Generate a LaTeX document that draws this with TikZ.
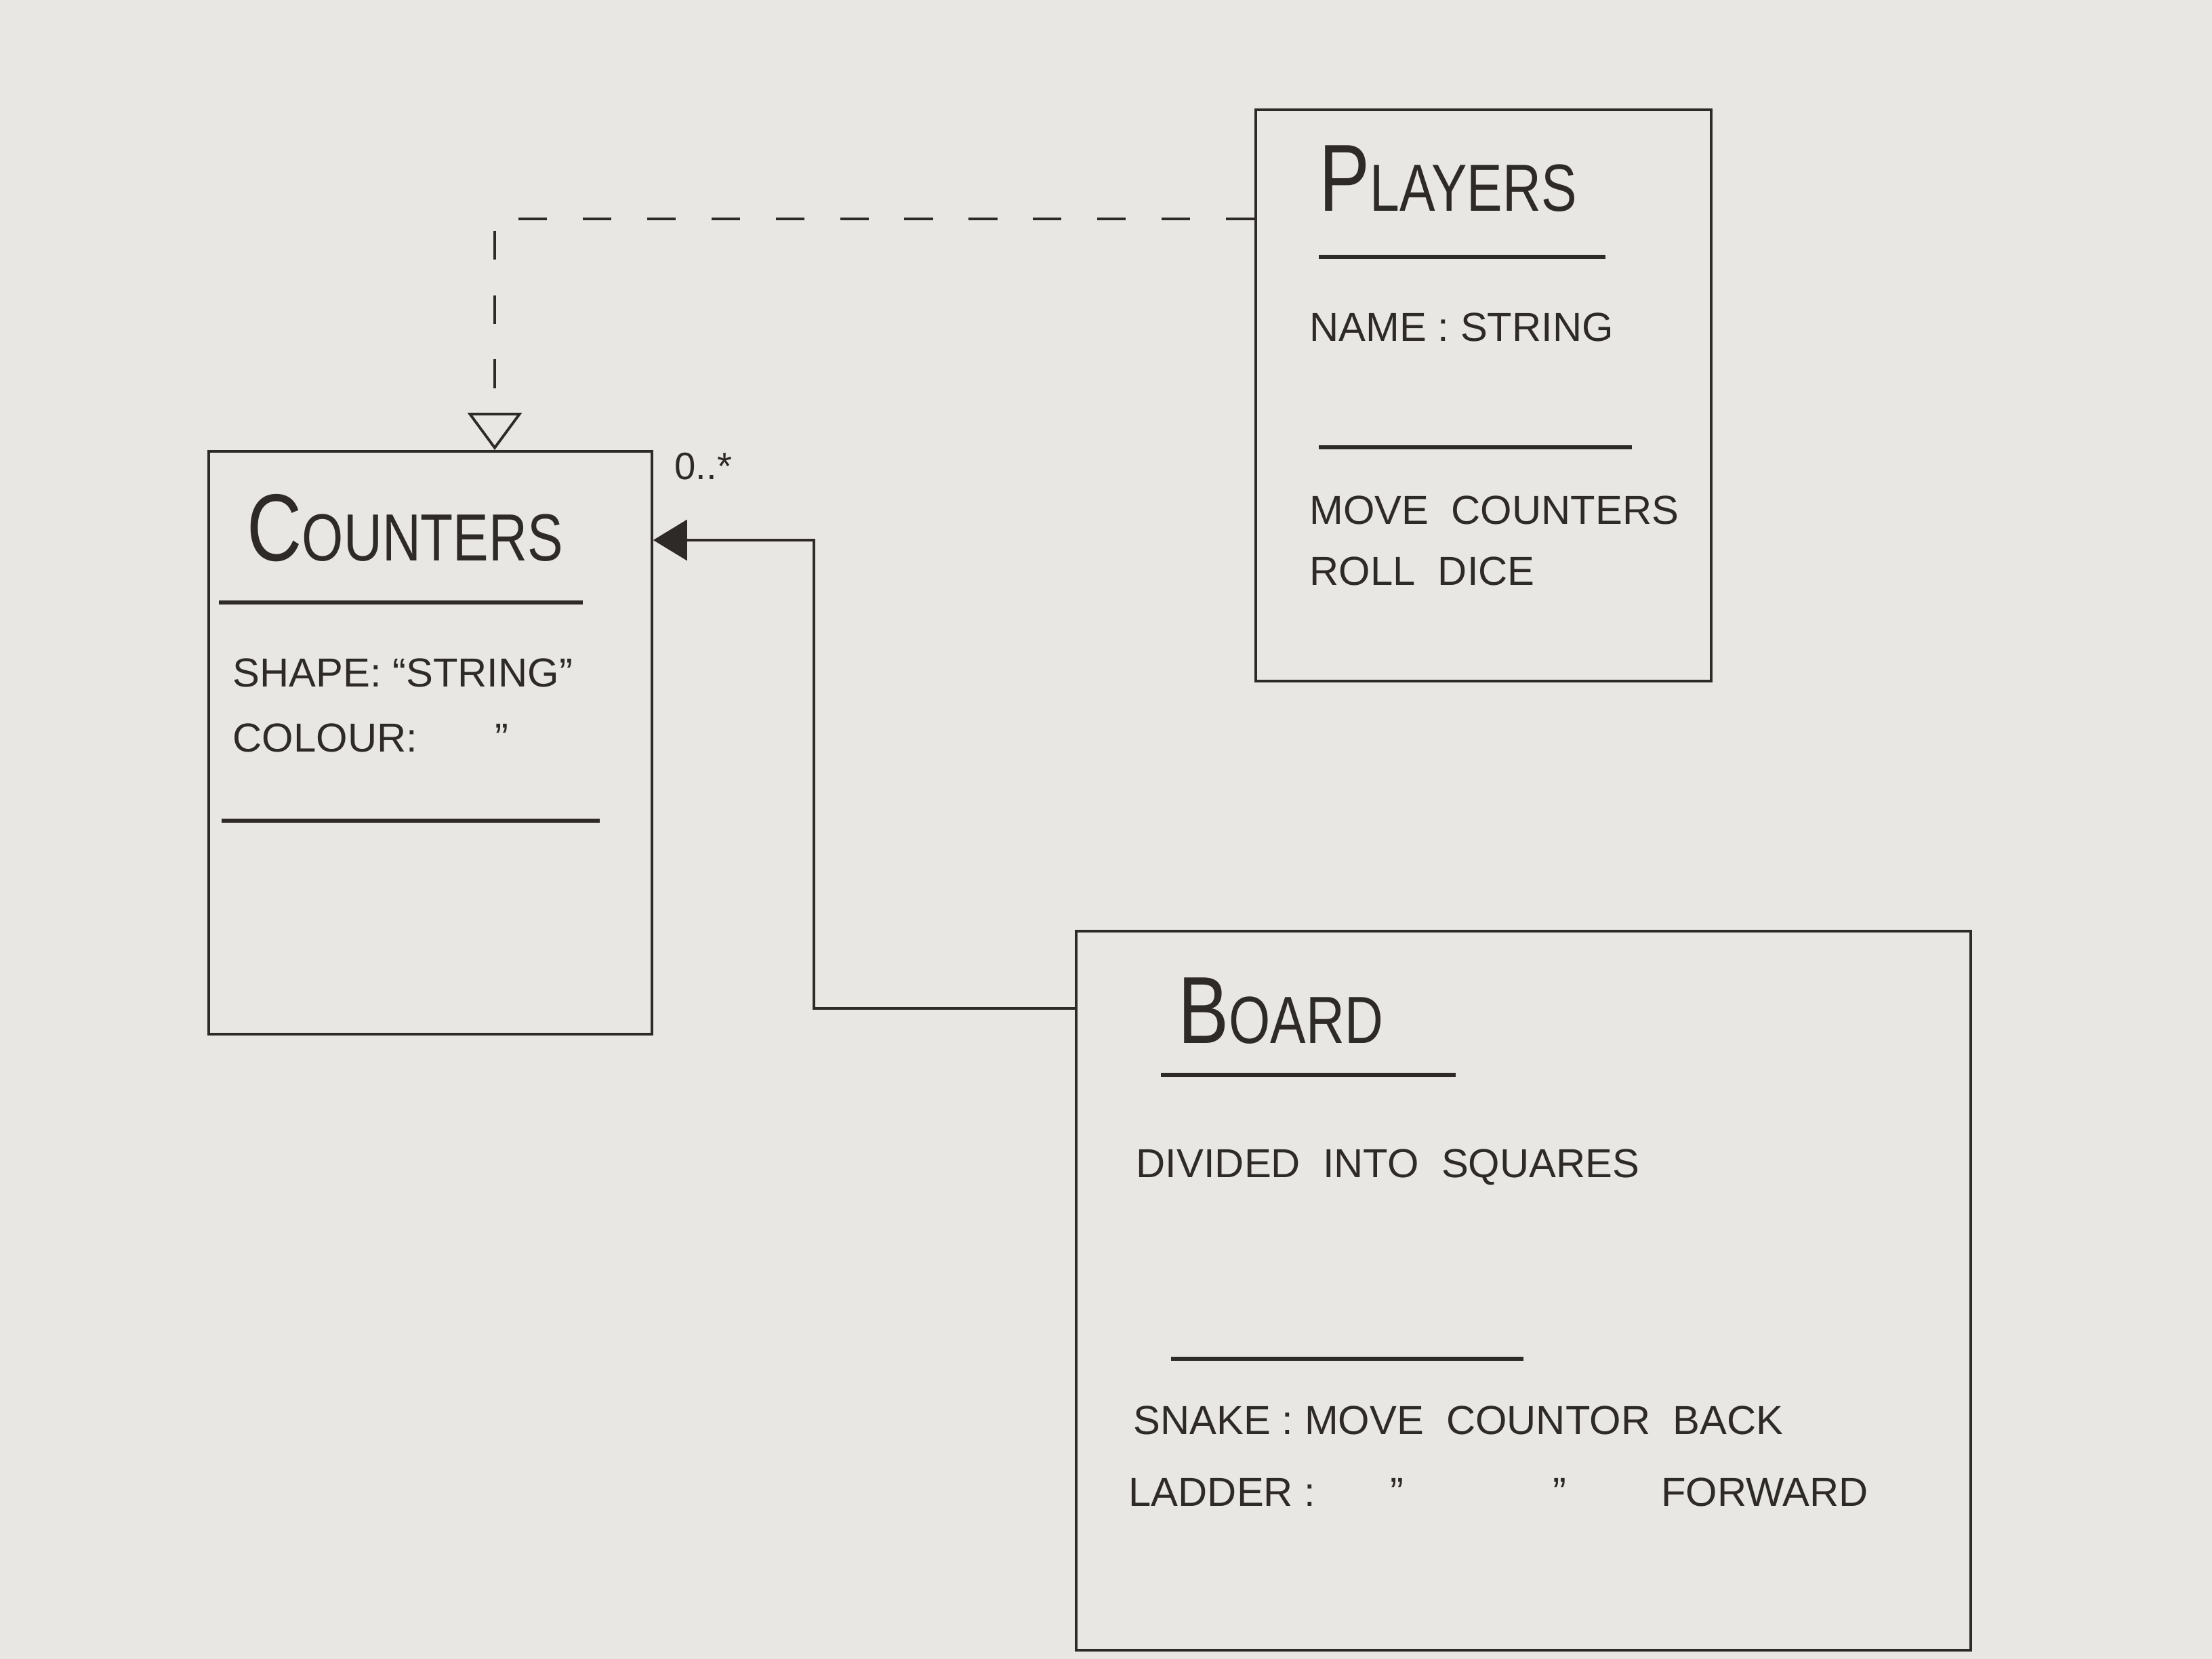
\documentclass[tikz,border=0pt]{standalone}
\usepackage{fontspec}
\setmainfont{Liberation Sans}
\newfontfamily\handfont[FakeStretch=0.8]{Liberation Sans}
\usetikzlibrary{arrows.meta}
\definecolor{paper}{HTML}{E9E7E3}
\definecolor{ink}{HTML}{2E2A28}
\newcommand{\classtitle}[2]{{\handfont\fontsize{40}{40}\selectfont #1}{\handfont\fontsize{28}{28}\selectfont #2}}
\tikzset{
  classbox/.style={rectangle, draw=ink, line width=1.1pt, inner sep=0pt},
  divider/.style={draw=ink, line width=1.5pt},
  classname/.style={anchor=base west, inner sep=0pt, text=ink},
  attr/.style={anchor=base west, inner sep=0pt, text=ink, font=\fontsize{17}{20}\selectfont},
  multiplicity/.style={anchor=base west, inner sep=0pt, text=ink, font=\fontsize{16}{18}\selectfont},
  realize/.style={draw=ink, line width=1.1pt, dash pattern=on 12pt off 15pt,
    -{Triangle[open, length=5.5mm, width=8mm, line width=1.1pt]}},
  assoc/.style={draw=ink, line width=1.1pt, -{Triangle[length=5mm, width=6mm]}}
}

\begin{document}
\begin{tikzpicture}
\useasboundingbox (0,0) rectangle (32.64,24.48);
\fill[paper] (0,0) rectangle (32.64,24.48);

% Counters class.
\node[classbox, minimum width=6.54cm, minimum height=8.6cm] (counters) at (6.35,13.52) {};
\node[classname] (countersname) at (3.64,16.2) {\classtitle{C}{OUNTERS}};
\draw[divider] (3.23,15.59) -- (8.6,15.59);
\node[attr] (shape) at (3.43,14.34) {SHAPE: “STRING”};
\node[attr] (colour) at (3.43,13.38) {COLOUR:};
\node[attr] (colourditto) at (7.3,13.38) {"};
\draw[divider] (3.27,12.37) -- (8.85,12.37);

% Players class.
\node[classbox, minimum width=6.72cm, minimum height=8.43cm] (players) at (21.89,18.645) {};
\node[classname] (playersname) at (19.46,21.36) {\classtitle{P}{LAYERS}};
\draw[divider] (19.46,20.69) -- (23.69,20.69);
\node[attr] (name) at (19.32,19.44) {NAME : STRING};
\draw[divider] (19.46,17.88) -- (24.08,17.88);
\node[attr] (move) at (19.32,16.74) {MOVE\ \ COUNTERS};
\node[attr] (roll) at (19.32,15.84) {ROLL\ \ DICE};

% Board class.
\node[classbox, minimum width=13.2cm, minimum height=10.61cm] (board) at (22.48,5.435) {};
\node[classname] (boardname) at (17.38,9.08) {\classtitle{B}{OARD}};
\draw[divider] (17.13,8.62) -- (21.48,8.62);
\node[attr] (divided) at (16.76,7.1) {DIVIDED\ \ INTO\ \ SQUARES};
\draw[divider] (17.28,4.43) -- (22.48,4.43);
\node[attr] (snake) at (16.72,3.31) {SNAKE\ : MOVE\ \ COUNTOR\ \ BACK};
\node[attr] (ladder) at (16.65,2.25) {LADDER :\hspace{1.1cm}"\hspace{2.2cm}"\hspace{1.4cm}FORWARD};

% Connectors.
\coordinate (dashturn) at (7.3,21.25);
\draw[realize] (players.west |- dashturn) -- (dashturn) -- (dashturn |- counters.north);

\coordinate (boardturn) at (12.01,9.6);
\coordinate (counterturn) at (12.01,16.51);
\draw[assoc] (board.west |- boardturn) -- (boardturn) -- (counterturn) -- (counters.east |- counterturn);
\node[multiplicity] (many) at (9.95,17.4) {0..*};

\end{tikzpicture}
\end{document}
